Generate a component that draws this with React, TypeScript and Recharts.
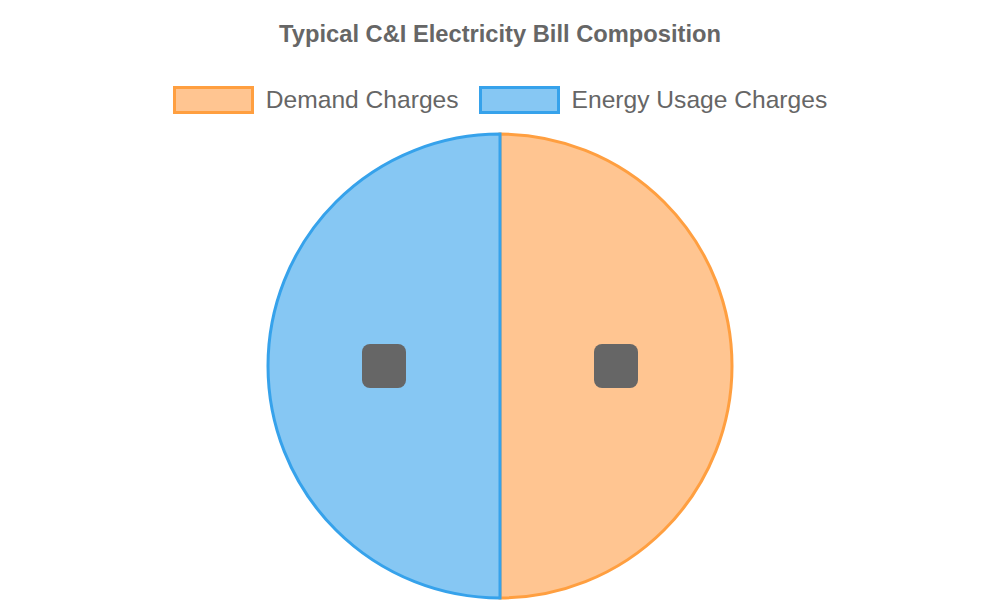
import { PieChart, Pie, Cell } from 'recharts';

const categories = ['Demand Charges', 'Energy Usage Charges'];
const shares = [50, 50];
const fills = ['#FFC591', '#86C7F3'];
const strokes = ['#FF9F40', '#36A2EB'];

const data = categories.map((name, i) => ({ name, value: shares[i] }));

const RADIAN = Math.PI / 180;

// the labels show up as dark rounded boxes in the reference
function BoxLabel(props: any) {
  const { cx, cy, midAngle, outerRadius } = props;
  const r = outerRadius * 0.5;
  const x = cx + r * Math.cos(-midAngle * RADIAN);
  const y = cy + r * Math.sin(-midAngle * RADIAN);
  return <rect x={x - 22} y={y - 22} width={44} height={44} rx={8} ry={8} fill="#666666" />;
}

function LegendRow() {
  return (
    <div
      style={{
        position: 'absolute',
        top: 86,
        left: 0,
        width: 1000,
        display: 'flex',
        justifyContent: 'center',
        alignItems: 'center',
        fontFamily: 'Liberation Sans, Arial, sans-serif',
      }}
    >
      {categories.map((c, i) => (
        <div key={c} style={{ display: 'flex', alignItems: 'center', marginRight: i === 0 ? 20 : 0 }}>
          <div
            style={{
              boxSizing: 'border-box',
              width: 81,
              height: 28,
              background: fills[i],
              border: `3px solid ${strokes[i]}`,
              marginRight: 12,
            }}
          />
          <span style={{ fontSize: 24.6, color: '#666', lineHeight: '28px' }}>{c}</span>
        </div>
      ))}
    </div>
  );
}

export default function App() {
  return (
    <div style={{ position: 'absolute', left: 0, top: 0, width: 1000, height: 600, background: '#fff' }}>
      <PieChart width={1000} height={600} margin={{ top: 0, right: 0, bottom: 0, left: 0 }}>
        <Pie
          data={data}
          dataKey="value"
          nameKey="name"
          cx={500}
          cy={366}
          outerRadius={232}
          startAngle={90}
          endAngle={-270}
          label={BoxLabel}
          labelLine={false}
          isAnimationActive={false}
        >
          {data.map((d, i) => (
            <Cell key={d.name} fill={fills[i]} stroke={strokes[i]} strokeWidth={3} />
          ))}
        </Pie>
      </PieChart>
      <div
        style={{
          position: 'absolute',
          top: 18,
          left: 0,
          width: 1000,
          textAlign: 'center',
          fontFamily: 'Liberation Sans, Arial, sans-serif',
          fontWeight: 'bold',
          fontSize: 23.7,
          color: '#666',
          lineHeight: '32px',
        }}
      >
        Typical C&amp;I Electricity Bill Composition
      </div>
      <LegendRow />
    </div>
  );
}
